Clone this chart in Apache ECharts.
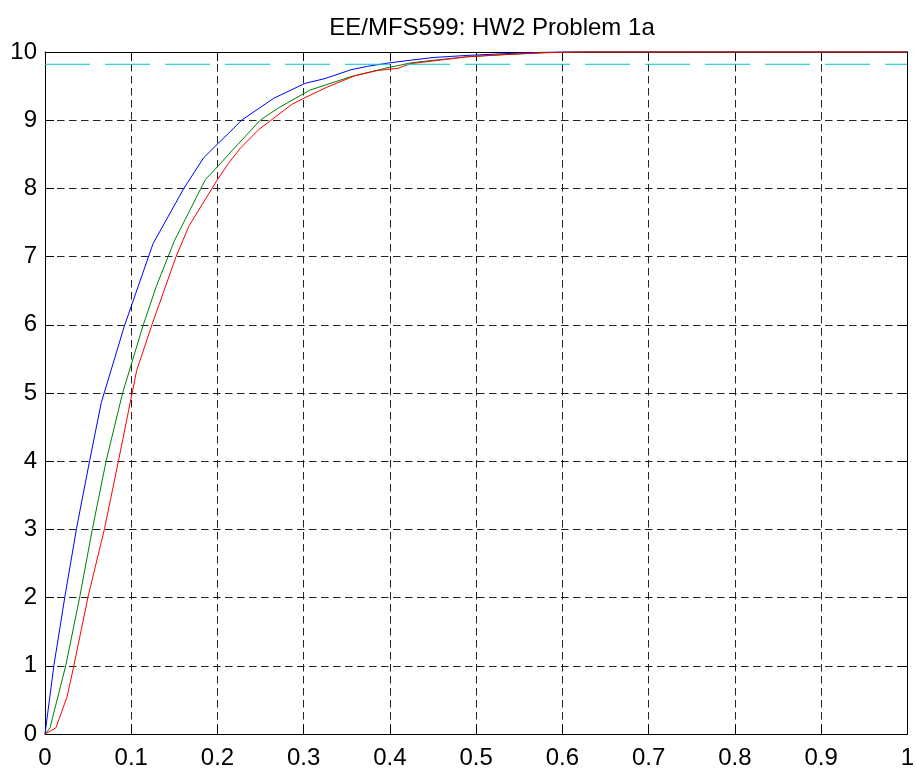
<!DOCTYPE html>
<html>
<head>
<meta charset="utf-8">
<script src="https://cdn.jsdelivr.net/npm/echarts@6/dist/echarts.min.js"></script>
<style>html,body{margin:0;padding:0;background:#fff}#c{width:917px;height:770px}</style>
</head>
<body>
<div id="c"></div>
<script>
const titleText = 'EE/MFS599: HW2 Problem 1a';
const xTicks = [0,0.1,0.2,0.3,0.4,0.5,0.6,0.7,0.8,0.9,1];
const yTicks = [0,1,2,3,4,5,6,7,8,9,10];

const blueT = [0,0.0104,0.023,0.0365,0.0518,0.0653,0.092,0.1253,0.161,0.184,0.2016,0.213,0.228,0.265,0.3015,0.3245,0.355,0.374,0.399,0.424,0.451,0.49,0.524,0.56,0.6,1];
const blueV = [0,1.01,2.01,3.01,4.01,4.86,5.98,7.19,8.0,8.45,8.67,8.81,9.0,9.32,9.54,9.61,9.74,9.79,9.84,9.88,9.92,9.95,9.97,9.99,10,10];

const greenT = [0,0.0058,0.0242,0.0403,0.055,0.071,0.09,0.114,0.1287,0.15,0.186,0.2016,0.213,0.2496,0.2707,0.307,0.355,0.394,0.424,0.451,0.49,0.53,0.58,0.62,1];
const greenV = [0,0.09,1.01,2.01,3.01,4.01,5.0,6.0,6.55,7.23,8.13,8.34,8.5,9.0,9.18,9.44,9.64,9.76,9.84,9.88,9.93,9.96,9.99,10,10];

const redT = [0,0.0127,0.0257,0.0336,0.0499,0.069,0.0853,0.1063,0.124,0.152,0.167,0.2,0.213,0.2266,0.2477,0.286,0.3015,0.328,0.359,0.386,0.409,0.424,0.451,0.49,0.53,0.58,0.63,1];
const redV = [0,0.09,0.55,1.01,2.01,3.01,4.01,5.33,6.0,7.0,7.45,8.13,8.37,8.59,8.86,9.23,9.33,9.49,9.65,9.73,9.76,9.83,9.87,9.93,9.96,9.99,10,10];

const refT = [0,1];
const refV = [9.82,9.82];

function zip(a,b){return a.map((x,i)=>[x,b[i]]);}

const FONT = 'Liberation Sans';
const chart = echarts.init(document.getElementById('c'), null, {renderer:'canvas'});
const axisBase = {
  type:'value',
  axisLine:{show:true,onZero:false,lineStyle:{color:'#000',width:1}},
  axisTick:{show:true,inside:true,length:9,lineStyle:{color:'#000',width:1}},
};
const gridLine = {show:true,lineStyle:{color:'#222',width:1,type:[7.5,4.5]}};
chart.setOption({
  animation:false,
  backgroundColor:'#fff',
  title:{text:titleText,left:487,textAlign:'center',top:11,textStyle:{fontFamily:FONT,fontSize:24,fontWeight:'normal',color:'#000'}},
  grid:{left:45,right:4,top:52,bottom:34,containLabel:false},
  xAxis:[
    Object.assign({},axisBase,{position:'bottom',min:0,max:1,interval:0.1,
      axisLabel:{show:true,margin:12,fontFamily:FONT,fontSize:24,color:'#000',formatter:v=>String(+v.toFixed(1))},
      splitLine:gridLine}),
    Object.assign({},axisBase,{position:'top',min:0,max:1,interval:0.1,axisLabel:{show:false},splitLine:{show:false}})
  ],
  yAxis:[
    Object.assign({},axisBase,{position:'left',min:0,max:10,interval:1,
      axisLabel:{show:true,margin:8,fontFamily:FONT,fontSize:24,color:'#000'},
      splitLine:gridLine}),
    Object.assign({},axisBase,{position:'right',min:0,max:10,interval:1,axisLabel:{show:false},splitLine:{show:false}})
  ],
  series:[
    {type:'line',data:zip(blueT,blueV),showSymbol:false,clip:false,lineStyle:{color:'#0000ff',width:1},itemStyle:{color:'#0000ff'}},
    {type:'line',data:zip(greenT,greenV),showSymbol:false,clip:false,lineStyle:{color:'#008000',width:1},itemStyle:{color:'#008000'}},
    {type:'line',data:zip(redT,redV),showSymbol:false,clip:false,lineStyle:{color:'#ff0000',width:1},itemStyle:{color:'#ff0000'}},
    {type:'line',data:zip(refT,refV),showSymbol:false,lineStyle:{color:'#00c8c8',width:1,type:[45,15]},itemStyle:{color:'#00c8c8'}}
  ]
});
</script>
</body>
</html>
